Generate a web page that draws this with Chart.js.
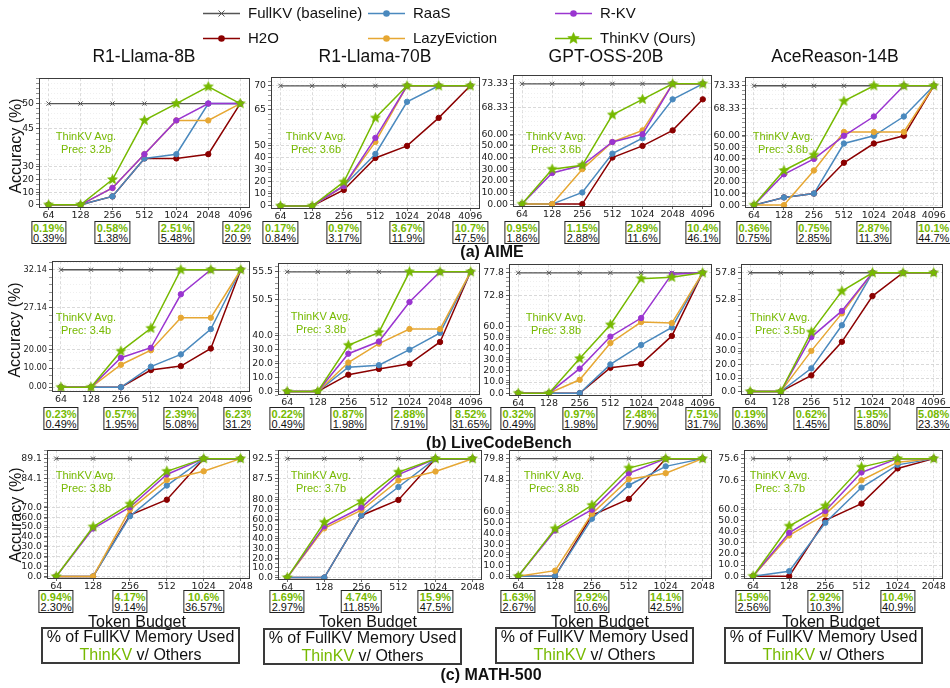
<!DOCTYPE html>
<html lang="en">
<head>
<meta charset="UTF-8">
<title>ThinKV accuracy vs token budget</title>
<script src="https://cdn.jsdelivr.net/npm/chart.js@4"></script>
<style>
    body {
        margin: 0;
        width: 950px;
        height: 688px;
        position: relative;
        overflow: hidden;
        background: #fff;
        font-family: "Liberation Sans", Arial, sans-serif;
        color: #111;
    }
    .plot { position: absolute; }
    .plot canvas { display: block; }
    .txt {
        position: absolute;
        transform: translate(-50%, -50%);
        white-space: nowrap;
        text-align: center;
    }
    .memo {
        position: absolute;
        transform: translateX(-50%);
        border: 1.5px solid #222;
        background: #fff;
        font-size: 11px;
        line-height: 10px;
        padding: 0.5px 1px 0 1px;
        text-align: center;
        white-space: nowrap;
    }
    .memo b { color: #76b900; }
    .clip { position: absolute; left: 0; top: 0; height: 688px; overflow: hidden; }
    .footbox {
        position: absolute;
        border: 2px solid #3a3a3a;
        font-size: 16px;
        line-height: 18px;
        text-align: center;
    }
    .footbox div { margin-top: -1px; }
    .green { color: #76b900; }
</style>
</head>
<body>
<canvas id="legend" width="950" height="50" style="position:absolute;left:0;top:0"></canvas>

<script>
    // ---- data ----
    const budgets = ['64', '128', '256', '512', '1024', '2048', '4096'];
    const models = ['R1-Llama-8B', 'R1-Llama-70B', 'GPT-OSS-20B', 'AceReason-14B'];
    const methods = ['FullKV (baseline)', 'H2O', 'RaaS', 'LazyEviction', 'R-KV', 'ThinKV (Ours)'];
    const benchmarks = ['(a) AIME', '(b) LiveCodeBench', '(c) MATH-500'];
    const budgetCount = [7, 7, 6];

    // AIME, one row per model
    const aimeFullKV = [50, 70, 73.33, 73.33];
    const aimeH2O = [
        [0, 0, 6.67, 36.67, 36.67, 40, 50],
        [0, 0, 13.33, 40, 50, 63.33, 70],
        [0, 0, 0, 40, 50, 63.33, 70],
        [0, 6.67, 10, 36.67, 53.33, 60, 73.33]
    ];
    const aimeRaaS = [
        [0, 0, 6.67, 36.67, 40, 50, 50],
        [0, 0, 16.67, 43.33, 66.67, 70, 70],
        [0, 0, 10, 43.33, 56.67, 70, 73.33],
        [0, 6.67, 10, 53.33, 60, 66.67, 73.33]
    ];
    const aimeLazy = [
        [0, 0, 13.33, 40, 46.67, 46.67, 50],
        [0, 0, 16.67, 53.33, 70, 70, 70],
        [0, 0, 30, 53.33, 63.33, 73.33, 73.33],
        [0, 0, 30, 63.33, 63.33, 63.33, 73.33]
    ];
    const aimeRKV = [
        [0, 0, 13.33, 40, 46.67, 50, 50],
        [0, 0, 16.67, 56.67, 70, 70, 70],
        [0, 26.67, 33.33, 53.33, 60, 73.33, 73.33],
        [0, 26.67, 40, 60, 66.67, 73.33, 73.33]
    ];
    const aimeThinKV = [
        [0, 0, 20, 46.67, 50, 53.33, 50],
        [0, 0, 20, 63.33, 70, 70, 70],
        [0, 30, 33.33, 66.67, 70, 73.33, 73.33],
        [0, 30, 43.33, 70, 73.33, 73.33, 73.33]
    ];

    // LiveCodeBench
    const lcbFullKV = [32.14, 55.5, 77.8, 57.8];
    const lcbH2O = [
        [0, 0, 0, 9.1, 11.2, 20.5, 32.14],
        [0, 0, 12, 16.1, 19.8, 35.4, 55.5],
        [0, 0, 0, 22.8, 26.1, 51.3, 77.8],
        [0, 0, 12, 36.8, 53.5, 57.8, 57.8]
    ];
    const lcbRaaS = [
        [0, 0, 0, 10.9, 17.4, 24.3, 32.14],
        [0, 0, 17.3, 18.8, 29.9, 41.9, 55.5],
        [0, 0, 0, 25.8, 43.2, 58.9, 77.8],
        [0, 0, 17.2, 48.1, 57.8, 57.8, 57.8]
    ];
    const lcbLazy = [
        [0, 0, 11.9, 19.6, 25.8, 25.8, 32.14],
        [0, 0, 20.7, 34.2, 44.6, 44.6, 55.5],
        [0, 0, 12, 45, 63.7, 62.8, 77.8],
        [0, 0, 30.1, 50.3, 57.8, 57.8, 57.8]
    ];
    const lcbRKV = [
        [0, 0, 15.6, 20.9, 28.9, 32.14, 32.14],
        [0, 0, 27, 35.7, 50.1, 55.5, 55.5],
        [0, 0, 22, 50.7, 67.3, 77.5, 77.8],
        [0, 0, 40.3, 50.75, 57.8, 57.8, 57.8]
    ];
    const lcbThinKV = [
        [0, 0, 19.1, 24.4, 32.14, 32.14, 32.14],
        [0, 0, 33, 42.2, 55.5, 55.5, 55.5],
        [0, 0, 31, 61.3, 76.5, 76.8, 77.8],
        [0, 0, 44, 54.4, 57.8, 57.8, 57.8]
    ];

    // MATH-500 (budgets 64..2048)
    const mathFullKV = [89.1, 92.5, 79.8, 75.6];
    const mathH2O = [
        [0, 0, 62, 77.6, 89.1, 89.1],
        [0, 0, 64, 80, 92.5, 92.5],
        [0, 0, 56.9, 70.4, 79.8, 79.8],
        [0, 0, 50.1, 65.2, 73.4, 75.6]
    ];
    const mathRaaS = [
        [0, 0, 60.9, 82.3, 89.1, 89.1],
        [0, 0, 64.1, 85.2, 92.5, 92.5],
        [0, 0, 53.75, 73.6, 78, 79.8],
        [0, 4.5, 48, 69.1, 74.2, 75.6]
    ];
    const mathLazy = [
        [0, 0, 67.6, 83.7, 85.9, 89.1],
        [0, 50.7, 69.4, 86.9, 89.2, 92.5],
        [0, 5.3, 58.4, 75, 76.4, 79.8],
        [0, 36.6, 55.6, 70.75, 74.8, 75.6]
    ];
    const mathRKV = [
        [0, 48.5, 70, 85.1, 89.1, 89.1],
        [0, 52.8, 72.2, 88.4, 92.5, 92.5],
        [0, 42.8, 62.2, 76.4, 79.8, 79.8],
        [0, 39, 58.6, 72.5, 75.6, 75.6]
    ];
    const mathThinKV = [
        [0, 50.2, 73.2, 85.9, 89.1, 89.1],
        [0, 57, 78.2, 89.05, 92.5, 92.5],
        [0, 44.4, 66.3, 77.6, 79.8, 79.8],
        [0, 45, 63.1, 73.7, 75.6, 75.6]
    ];

    // y tick labels per panel
    const aimeTicks = [
        [0, 10, 20, 30, 45, 50],
        [0, 10, 20, 30, 40, 50, 65, 70],
        [0, 10, 20, 30, 40, 50, 60, 68.33, 73.33],
        [0, 10, 20, 30, 40, 50, 60, 68.33, 73.33]
    ];
    const lcbTicks = [
        [0, 10, 20, 27.14, 32.14],
        [0, 10, 20, 30, 40, 50.5, 55.5],
        [0, 10, 20, 30, 40, 50, 60, 72.8, 77.8],
        [0, 10, 20, 30, 40, 52.8, 57.8]
    ];
    const mathTicks = [
        [0, 10, 20, 30, 40, 50, 60, 70, 84.1, 89.1],
        [0, 10, 20, 30, 40, 50, 60, 70, 80, 87.5, 92.5],
        [0, 10, 20, 30, 40, 50, 60, 74.8, 79.8],
        [0, 10, 20, 30, 40, 50, 60, 70.6, 75.6]
    ];
    const aimeDecimals = [0, 0, 2, 2];
    const lcbDecimals = [2, 1, 1, 1];
    const mathDecimals = [1, 1, 1, 1];

    // average ThinKV precision (bits)
    const aimePrec = ['3.2b', '3.6b', '3.6b', '3.6b'];
    const lcbPrec = ['3.4b', '3.8b', '3.8b', '3.5b'];
    const mathPrec = ['3.8b', '3.7b', '3.8b', '3.7b'];

    // % of FullKV memory: ThinKV / others, labelled budgets
    const memBudgets = [['64', '256', '1024', '4096'], ['64', '256', '1024', '4096'], ['64', '256', '1024']];
    const aimeMemThinKV = [
        ['0.19%', '0.58%', '2.51%', '9.22%'],
        ['0.17%', '0.97%', '3.67%', '10.7%'],
        ['0.95%', '1.15%', '2.89%', '10.4%'],
        ['0.36%', '0.75%', '2.87%', '10.1%']
    ];
    const aimeMemOthers = [
        ['0.39%', '1.38%', '5.48%', '20.9%'],
        ['0.84%', '3.17%', '11.9%', '47.5%'],
        ['1.86%', '2.88%', '11.6%', '46.1%'],
        ['0.75%', '2.85%', '11.3%', '44.7%']
    ];
    const lcbMemThinKV = [
        ['0.23%', '0.57%', '2.39%', '6.23%'],
        ['0.22%', '0.87%', '2.88%', '8.52%'],
        ['0.32%', '0.97%', '2.48%', '7.51%'],
        ['0.19%', '0.62%', '1.95%', '5.08%']
    ];
    const lcbMemOthers = [
        ['0.49%', '1.95%', '5.08%', '31.2%'],
        ['0.49%', '1.98%', '7.91%', '31.65%'],
        ['0.49%', '1.98%', '7.90%', '31.7%'],
        ['0.36%', '1.45%', '5.80%', '23.3%']
    ];
    const mathMemThinKV = [
        ['0.94%', '4.17%', '10.6%'],
        ['1.69%', '4.74%', '15.9%'],
        ['1.63%', '2.92%', '14.1%'],
        ['1.59%', '2.92%', '10.4%']
    ];
    const mathMemOthers = [
        ['2.30%', '9.14%', '36.57%'],
        ['2.97%', '11.85%', '47.5%'],
        ['2.67%', '10.6%', '42.5%'],
        ['2.56%', '10.3%', '40.9%']
    ];

    const rows = [
        { full: aimeFullKV, series: [aimeH2O, aimeRaaS, aimeLazy, aimeRKV, aimeThinKV], ticks: aimeTicks, dec: aimeDecimals, prec: aimePrec, memA: aimeMemThinKV, memB: aimeMemOthers },
        { full: lcbFullKV, series: [lcbH2O, lcbRaaS, lcbLazy, lcbRKV, lcbThinKV], ticks: lcbTicks, dec: lcbDecimals, prec: lcbPrec, memA: lcbMemThinKV, memB: lcbMemOthers },
        { full: mathFullKV, series: [mathH2O, mathRaaS, mathLazy, mathRKV, mathThinKV], ticks: mathTicks, dec: mathDecimals, prec: mathPrec, memA: mathMemThinKV, memB: mathMemOthers }
    ];

    // ---- layout ----
    const green = '#76b900';
    const styles = [
        { color: '#555555', marker: 'crossRot', r: 3, width: 1.3 },
        { color: '#8b0000', marker: 'circle', r: 2.7, width: 1.5 },
        { color: '#4a89be', marker: 'circle', r: 2.7, width: 1.5 },
        { color: '#e6a733', marker: 'circle', r: 2.7, width: 1.5 },
        { color: '#9a35d0', marker: 'circle', r: 2.7, width: 1.5 },
        { color: green, marker: 'star', r: 5.2, width: 1.5 }
    ];
    // plot frames [left, top, right, bottom]
    const frames = [
        [[39, 78, 250, 208], [271, 77, 480, 209], [513, 75, 712, 207], [745, 77, 943, 208]],
        [[52, 261, 250, 392], [278, 263, 480, 395], [509, 264, 712, 396], [741, 264, 943, 395]],
        [[47, 450, 250, 579], [278, 450, 482, 580], [509, 450, 712, 579], [744, 450, 943, 579]]
    ];
    const clipRight = [251, 484, 715, 949];
    const precPos = [
        [[86, 143], [316, 143], [556, 143], [783, 143]],
        [[86, 324], [321, 323], [556, 324], [780, 324]],
        [[86, 482], [321, 482], [554, 482], [780, 482]]
    ];
    const memTop = [221, 407, 590];
    const titleX = [144, 375, 606, 835];
    const captionPos = [[492, 252], [499, 443], [491, 675]];
    const accX = [16, 15, 16];
    const accY = [146, 330, 515];
    const budgetLabelX = [137, 368, 600, 831];
    const footBoxes = [[41, 627, 195], [263, 628, 195], [495, 627, 195], [724, 627, 195]];

    function drawStar(g, cx, cy, r, color) {
        g.beginPath();
        for (let i = 0; i < 10; i++) {
            const rr = i % 2 ? r * 0.45 : r;
            const a = -Math.PI / 2 + i * Math.PI / 5;
            g.lineTo(cx + rr * Math.cos(a), cy + rr * Math.sin(a));
        }
        g.closePath();
        g.fillStyle = color;
        g.fill();
        g.lineWidth = 0.6;
        g.strokeStyle = color;
        g.stroke();
    }
    function makeStar(color, r) {
        const s = Math.ceil(r * 2 + 2);
        const c = document.createElement('canvas');
        c.width = c.height = s;
        drawStar(c.getContext('2d'), s / 2, s / 2, r, color);
        return c;
    }
    const starImg = makeStar(green, styles[5].r);

    // y axis with the range below (fullKV - 10) squeezed 4x
    class BrokenLinearScale extends Chart.LinearScale {
        toF(v) { const b = this.options.brk; return v >= b ? v : b - (b - v) / 4; }
        fromF(f) { const b = this.options.brk; return f >= b ? f : b - (b - f) * 4; }
        getPixelForValue(v) {
            const lo = this.toF(this.min), hi = this.toF(this.max);
            return this.getPixelForDecimal((this.toF(v) - lo) / (hi - lo));
        }
        getValueForPixel(p) {
            const lo = this.toF(this.min), hi = this.toF(this.max);
            return this.fromF(lo + this.getDecimalForPixel(p) * (hi - lo));
        }
    }
    BrokenLinearScale.id = 'broken';
    BrokenLinearScale.defaults = {};
    Chart.register(BrokenLinearScale);

    const framePlugin = {
        id: 'frame',
        afterDraw(chart) {
            const { ctx, chartArea: a } = chart;
            ctx.save();
            ctx.strokeStyle = '#3c3c3c';
            ctx.lineWidth = 1;
            ctx.strokeRect(Math.round(a.left) + 0.5, Math.round(a.top) + 0.5,
                Math.round(a.right - a.left) - 1, Math.round(a.bottom - a.top) - 1);
            ctx.restore();
        }
    };

    function addText(html, x, y, css, parent) {
        const d = document.createElement('div');
        d.className = 'txt';
        d.innerHTML = html;
        d.style.left = x + 'px';
        d.style.top = y + 'px';
        Object.assign(d.style, css || {});
        (parent || document.body).appendChild(d);
        return d;
    }

    const clips = clipRight.map((cr, c) => {
        const d = document.createElement('div');
        d.className = 'clip';
        d.style.width = (c === 0 ? cr : 950) + 'px';
        document.body.appendChild(d);
        return d;
    });

    function plotConfig(r, c) {
        const row = rows[r];
        const n = budgetCount[r];
        const [L, T, R, B] = frames[r][c];
        const full = row.full[c];
        const brk = full - 10;
        const lines = [Array(n).fill(full)].concat(row.series.map(s => s[c]));
        const top = Math.max(...lines.flat());
        const yMin = -2.5;
        const yMax = top + 0.07 * (top - (brk - (brk - yMin) / 4));

        // minor grid: every unit above the break, every 4 units below
        const major = row.ticks[c];
        const minor = [];
        for (let v = brk; v <= yMax; v += 1) minor.push(v);
        for (let v = brk - 4; v >= yMin; v -= 4) minor.push(v);
        const yTicks = major.map(v => ({ value: v }))
            .concat(minor.filter(v => !major.some(m => Math.abs(m - v) < 0.6)).map(v => ({ value: v, minor: true })));
        const isMinor = ctx => ctx.tick && ctx.tick.minor;
        const yFont = { family: 'DejaVu Sans', size: (r === 1 && c === 0) ? 8.2 : 9.3 };

        return {
            type: 'line',
            data: {
                datasets: lines.map((vals, k) => ({
                    label: methods[k],
                    data: vals.map((y, i) => ({ x: i, y })),
                    borderColor: styles[k].color,
                    backgroundColor: styles[k].color,
                    borderWidth: styles[k].width,
                    pointStyle: styles[k].marker === 'star' ? starImg : styles[k].marker,
                    pointRadius: styles[k].r,
                    pointBorderWidth: 1,
                    order: 5 - k
                }))
            },
            options: {
                responsive: false,
                maintainAspectRatio: false,
                animation: false,
                events: [],
                layout: { padding: { left: 0, top: 0, bottom: 0, right: clipRight[c] - R } },
                plugins: { legend: { display: false }, tooltip: { enabled: false } },
                scales: {
                    x: {
                        type: 'linear',
                        min: -0.05 * (n - 1),
                        max: (n - 1) * 1.05,
                        afterBuildTicks: s => { s.ticks = budgets.slice(0, n).map((b, i) => ({ value: i })); },
                        afterFit: s => { s.height = 16; s.paddingLeft = 0; s.paddingRight = 0; },
                        ticks: {
                            autoSkip: false,
                            maxRotation: 0,
                            padding: 0,
                            color: '#222',
                            font: { family: 'DejaVu Sans', size: 9.5 },
                            callback: v => budgets[v]
                        },
                        grid: { color: '#d2d2d2', lineWidth: 0.8, tickLength: 2, tickColor: '#444' },
                        border: { display: false, dash: [3, 2] }
                    },
                    y: {
                        type: 'broken',
                        brk: brk,
                        min: yMin,
                        max: yMax,
                        afterBuildTicks: s => { s.ticks = yTicks.map(t => Object.assign({}, t)); },
                        afterFit: s => { s.width = 44; s.paddingTop = 0; s.paddingBottom = 0; },
                        ticks: {
                            autoSkip: false,
                            padding: 2,
                            color: '#222',
                            font: yFont,
                            callback: (v, i, ts) => ts[i].minor ? '' : v.toFixed(row.dec[c])
                        },
                        grid: {
                            color: ctx => isMinor(ctx) ? '#ebebeb' : '#cfcfcf',
                            lineWidth: 0.8,
                            tickLength: 3,
                            tickColor: ctx => isMinor(ctx) ? '#777' : '#333'
                        },
                        border: { display: false, dash: ctx => isMinor(ctx) ? [1, 2] : [3, 2] }
                    }
                }
            },
            plugins: [framePlugin]
        };
    }

    function makePlot(r, c) {
        const row = rows[r];
        const [L, T, R, B] = frames[r][c];
        const box = document.createElement('div');
        box.className = 'plot';
        document.body.appendChild(box);

        // first pass measures the axis insets, second pass sizes the canvas so the frame lands on L,T,R,B
        let cv = document.createElement('canvas');
        cv.width = clipRight[c] - L + 44;
        cv.height = B - T + 16;
        box.appendChild(cv);
        let chart = new Chart(cv, plotConfig(r, c));
        const a = chart.chartArea;
        const inL = a.left, inT = a.top, inR = cv.width - a.right, inB = cv.height - a.bottom;
        chart.destroy();
        box.removeChild(cv);

        cv = document.createElement('canvas');
        cv.width = Math.round(inL + (R - L) + inR);
        cv.height = Math.round(inT + (B - T) + inB);
        box.appendChild(cv);
        const left = L - inL;
        box.style.left = left + 'px';
        box.style.top = (T - inT) + 'px';
        chart = new Chart(cv, plotConfig(r, c));

        // memory boxes under chosen budgets
        memBudgets[r].forEach((b, j) => {
            const i = budgets.indexOf(b);
            const x = left + chart.scales.x.getPixelForValue(i);
            const m = document.createElement('div');
            m.className = 'memo';
            m.style.left = x + 'px';
            m.style.top = memTop[r] + 'px';
            m.innerHTML = '<b>' + row.memA[c][j] + '</b><br>' + row.memB[c][j];
            clips[c].appendChild(m);
        });

        const [px, py] = precPos[r][c];
        addText('ThinKV Avg.<br>Prec: ' + row.prec[c], px, py,
            { color: green, fontSize: '11px', lineHeight: '13px' });
    }

    for (let r = 0; r < 3; r++) {
        for (let c = 0; c < 4; c++) makePlot(r, c);
        addText('Accuracy (%)', accX[r], accY[r], { fontSize: '16px', transform: 'translate(-50%,-50%) rotate(-90deg)' });
        addText(benchmarks[r], captionPos[r][0], captionPos[r][1], { fontSize: '16px', fontWeight: 'bold' });
    }

    models.forEach((m, c) => {
        addText(m, titleX[c], 56, { fontSize: '17.5px' });
        addText('Token Budget', budgetLabelX[c], 622, { fontSize: '16px' });
        const [x, y, w] = footBoxes[c];
        const fb = document.createElement('div');
        fb.className = 'footbox';
        fb.style.left = x + 'px';
        fb.style.top = y + 'px';
        fb.style.width = w + 'px';
        fb.style.height = '33px';
        fb.innerHTML = '<div>% of FullKV Memory Used<br><span class="green">ThinKV</span> v/ Others</div>';
        document.body.appendChild(fb);
    });

    // legend, two rows of three entries
    const lg = document.getElementById('legend').getContext('2d');
    const legendCols = [203, 368, 555];
    const legendRows = [13, 38];
    const legendOrder = [0, 2, 4, 1, 3, 5];
    legendOrder.forEach((k, j) => {
        const x = legendCols[j % 3], y = legendRows[Math.floor(j / 3)];
        const st = styles[k];
        lg.strokeStyle = st.color;
        lg.lineWidth = st.width;
        lg.beginPath();
        lg.moveTo(x, y + 0.5);
        lg.lineTo(x + 37, y + 0.5);
        lg.stroke();
        const mx = x + 18.5;
        if (st.marker === 'star') {
            drawStar(lg, mx, y + 0.5, 6, st.color);
        } else if (st.marker === 'crossRot') {
            lg.lineWidth = 1;
            lg.beginPath();
            lg.moveTo(mx - 3, y - 2.5); lg.lineTo(mx + 3, y + 3.5);
            lg.moveTo(mx + 3, y - 2.5); lg.lineTo(mx - 3, y + 3.5);
            lg.stroke();
        } else {
            lg.fillStyle = st.color;
            lg.beginPath();
            lg.arc(mx, y + 0.5, 3.3, 0, Math.PI * 2);
            lg.fill();
        }
        lg.fillStyle = '#111';
        lg.font = '15px "Liberation Sans", Arial, sans-serif';
        lg.textBaseline = 'middle';
        lg.fillText(methods[k], x + 45, y + 1);
    });
</script>
</body>
</html>
